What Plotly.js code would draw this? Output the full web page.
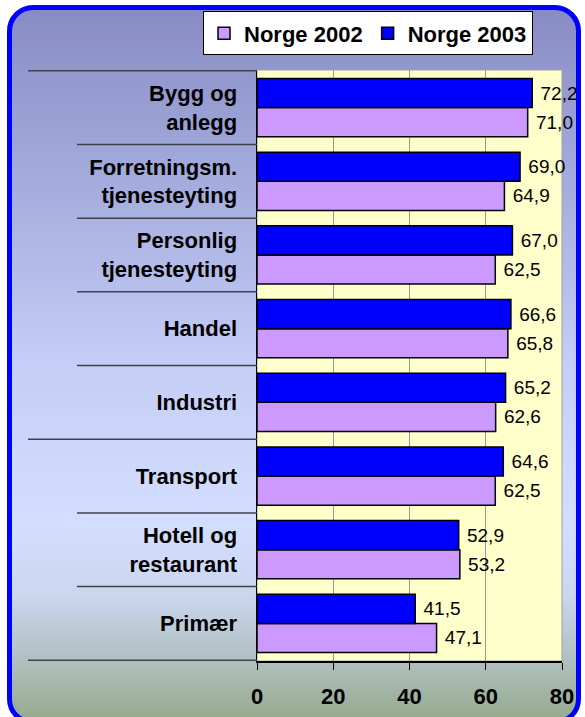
<!DOCTYPE html>
<html>
<head>
<meta charset="utf-8">
<script src="https://cdn.plot.ly/plotly-3.0.1.min.js"></script>
<style>
  html, body { margin: 0; padding: 0; width: 585px; height: 717px; overflow: hidden; background: #ffffff; }
  #frame {
    position: absolute; left: 7px; top: 5px; width: 574px; height: 720px;
    box-sizing: border-box; border: 5px solid #0000ff; border-radius: 26px;
    background: linear-gradient(to bottom, #888cc4 0%, #a5adde 25%, #c4cef6 50%, #d3defe 72%, #cbd7f0 82%, #b4c4c8 90%, #96aa8e 100%);
  }
  #chart { position: absolute; left: 0; top: 0; width: 585px; height: 717px; }
</style>
</head>
<body>
<div id="frame"></div>
<div id="chart"></div>
<script>
// Categories listed bottom to top
const categories = [
  "Primær",
  "Hotell og<br>restaurant",
  "Transport",
  "Industri",
  "Handel",
  "Personlig<br>tjenesteyting",
  "Forretningsm.<br>tjenesteyting",
  "Bygg og<br>anlegg"
];
const norge2002 = [47.1, 53.2, 62.5, 62.6, 65.8, 62.5, 64.9, 71.0];
const norge2003 = [41.5, 52.9, 64.6, 65.2, 66.6, 67.0, 69.0, 72.2];
const xTicks = [0, 20, 40, 60, 80];

const fmt = v => "\u00a0" + v.toFixed(1).replace(".", ",");
const FONT = "Liberation Sans, Arial, sans-serif";

const traces = [
  {
    type: "bar", orientation: "h", name: "Norge 2002",
    y: categories, x: norge2002,
    text: norge2002.map(fmt), textposition: "outside", cliponaxis: false, constraintext: "none",
    textfont: { family: FONT, size: 19, color: "#000000" },
    marker: { color: "#cc99ff", line: { color: "#000000", width: 1.5 } },
    hoverinfo: "skip"
  },
  {
    type: "bar", orientation: "h", name: "Norge 2003",
    y: categories, x: norge2003,
    text: norge2003.map(fmt), textposition: "outside", cliponaxis: false, constraintext: "none",
    textfont: { family: FONT, size: 19, color: "#000000" },
    marker: { color: "#0000ff", line: { color: "#000000", width: 1.5 } },
    hoverinfo: "skip"
  }
];

// Separator lines between categories, extending into the label area
const shapes = [];
const plotW = 305;
const longX = (28 - 257) / plotW;
const shortX = (77 - 257) / plotW;
for (let i = 0; i <= categories.length; i++) {
  const yv = i - 0.5;
  const isLong = (i === 0 || i === categories.length || i === 3);
  shapes.push({
    type: "line", xref: "paper", yref: "y",
    x0: isLong ? longX : shortX, x1: 0, y0: yv, y1: yv,
    line: { color: "#404048", width: 1.5 }, layer: "above"
  });
}
// plot area frame (light grey on top/right)
shapes.push({
  type: "rect", xref: "paper", yref: "paper", x0: 0, x1: 1, y0: 0, y1: 1,
  line: { color: "#a0a0a0", width: 1 }, layer: "below"
});

const layout = {
  width: 585, height: 717,
  margin: { l: 257, r: 23, t: 67, b: 56 },
  paper_bgcolor: "rgba(0,0,0,0)",
  plot_bgcolor: "#ffffcc",
  barmode: "group", bargap: 0.21, bargroupgap: 0,
  font: { family: FONT, color: "#000000" },
  showlegend: true,
  legend: {
    orientation: "h", x: -0.177, xanchor: "left", y: 1.099, yanchor: "top",
    bgcolor: "#ffffff", bordercolor: "#000000", borderwidth: 1,
    font: { family: FONT, size: 22, weight: "bold", color: "#000000" },
    itemclick: false, itemdoubleclick: false
  },
  xaxis: {
    range: [0, 80], tickvals: xTicks, ticktext: xTicks.map(String),
    showgrid: true, gridcolor: "#999999", gridwidth: 1,
    showline: true, linecolor: "#000000", linewidth: 1.5,
    ticks: "outside", ticklen: 7, tickcolor: "#000000",
    ticklabelstandoff: 8,
    tickfont: { family: FONT, size: 22, weight: "bold", color: "#000000" },
    zeroline: false, fixedrange: true
  },
  yaxis: {
    type: "category", categoryorder: "array", categoryarray: categories,
    showline: true, linecolor: "#000000", linewidth: 1.5,
    ticks: "", showgrid: false, ticklabelstandoff: 14,
    tickfont: { family: FONT, size: 22, weight: "bold", color: "#000000" },
    fixedrange: true
  },
  shapes: shapes
};

Plotly.newPlot("chart", traces, layout, { displayModeBar: false, staticPlot: true });
</script>
</body>
</html>
